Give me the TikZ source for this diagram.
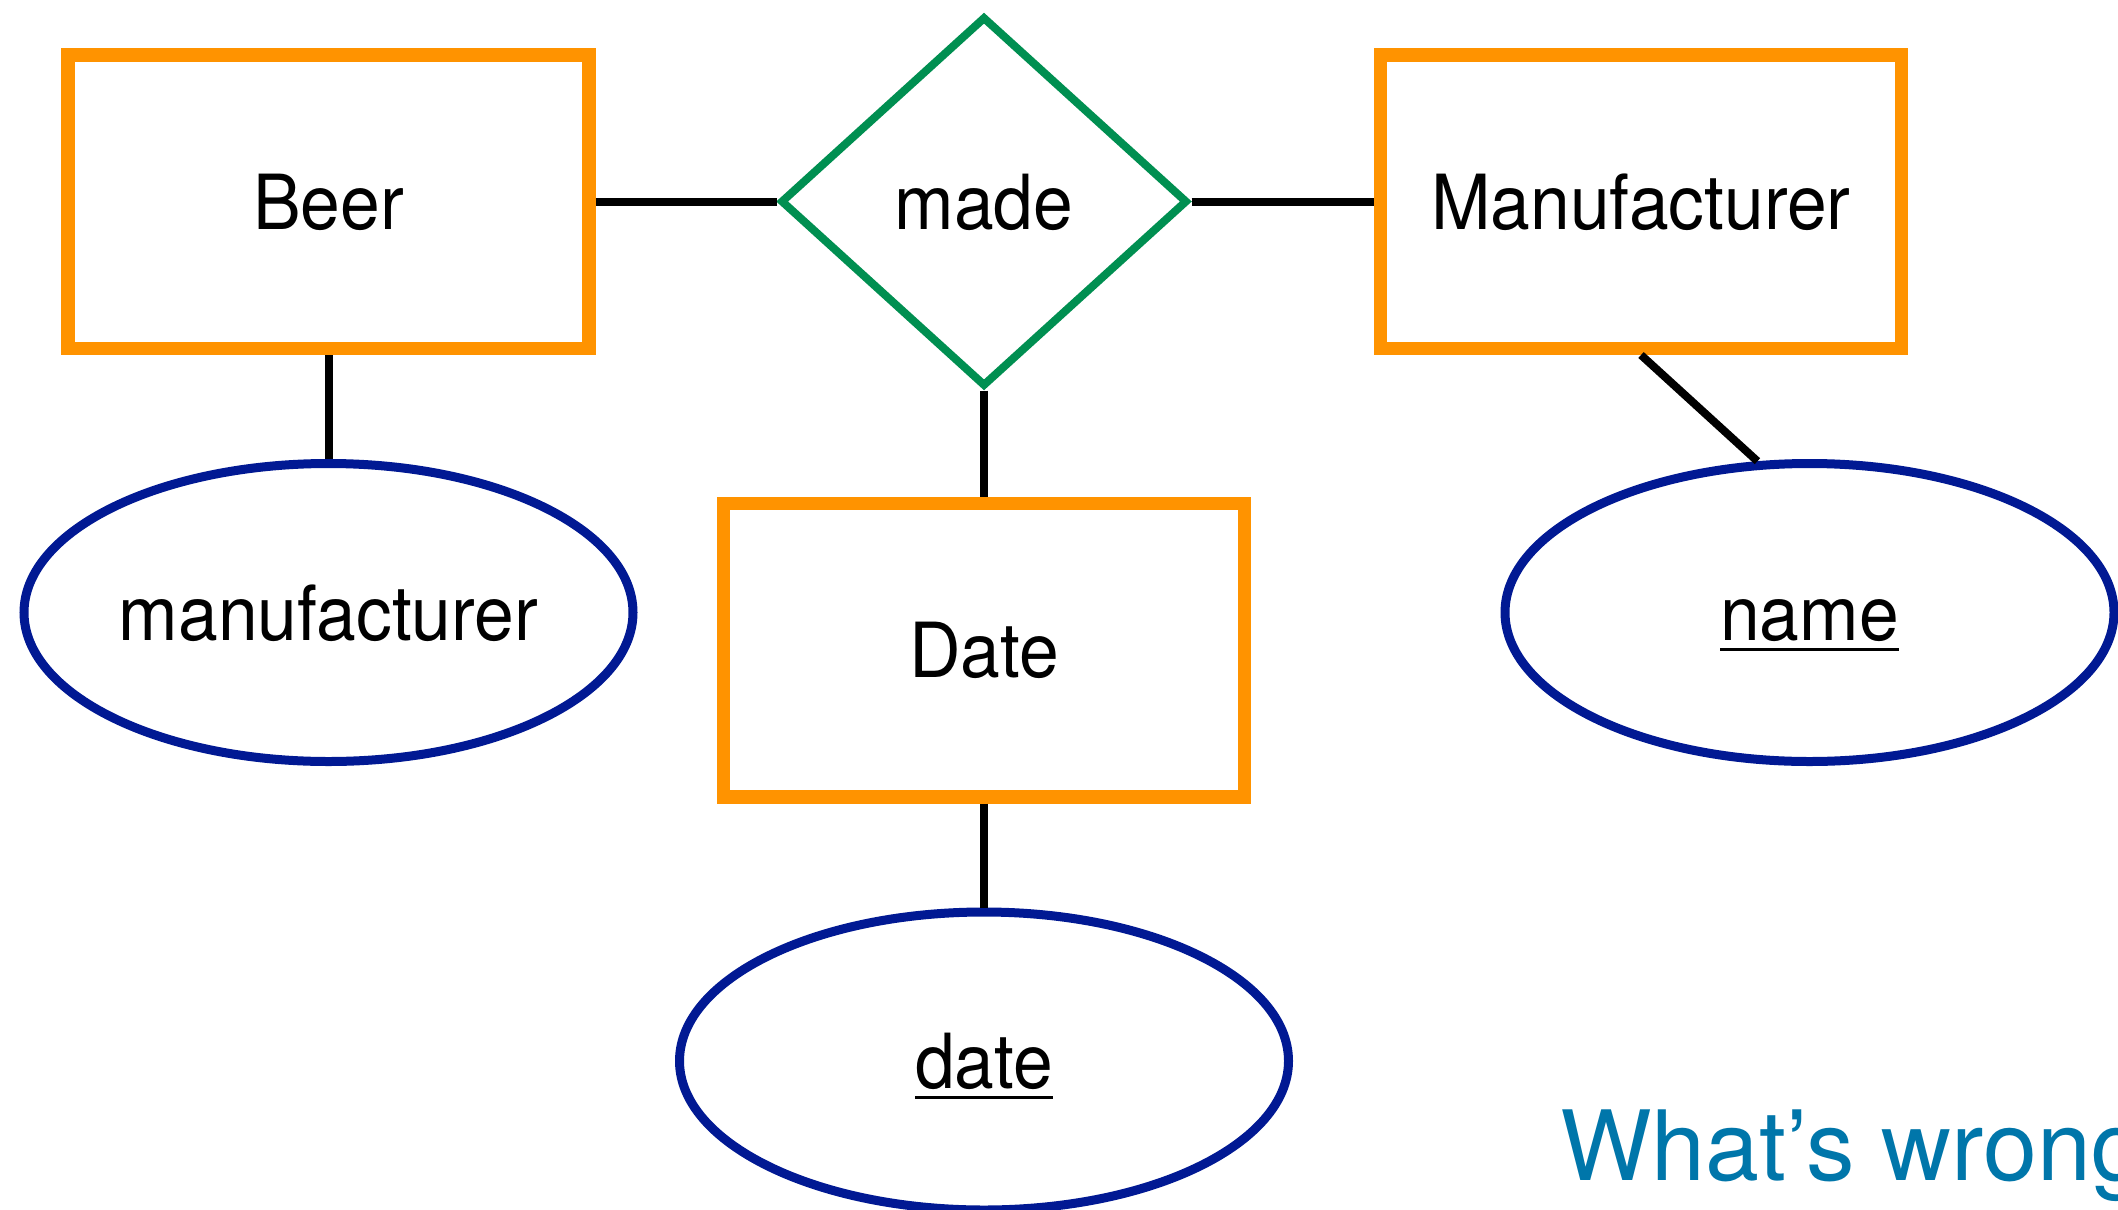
\documentclass[tikz,border=0pt]{standalone}
\usepackage{fontspec}
\setmainfont{TeX Gyre Heros}[FakeStretch=0.94]
\newfontfamily\notefont{TeX Gyre Heros}
\usetikzlibrary{shapes.geometric}

\definecolor{entityorange}{RGB}{255,147,0}
\definecolor{relgreen}{RGB}{0,143,81}
\definecolor{attrblue}{RGB}{1,25,147}
\definecolor{notecolor}{RGB}{0,118,170}

% key attributes are underlined with a thin bar below the baseline
\newsavebox\keybox
\newcommand\keyattr[1]{\sbox\keybox{#1}\rlap{\rule[-10.5pt]{\wd\keybox}{3pt}}\usebox\keybox}

\begin{document}
\begin{tikzpicture}[x=1pt, y=-1pt,
  font=\fontsize{76}{80}\selectfont,
  entity/.style={draw=entityorange, line width=13.5pt, fill=white,
    minimum width=521pt, minimum height=293.5pt, inner sep=0pt,
    text height=55pt, text depth=0pt},
  relation/.style={diamond, draw=relgreen, line width=8pt, fill=white,
    minimum width=407pt, minimum height=370pt, inner sep=0pt,
    text height=55pt, text depth=0pt},
  attribute/.style={ellipse, draw=attrblue, line width=9pt, fill=white,
    minimum width=609pt, minimum height=298pt, inner sep=0pt,
    text height=55pt, text depth=0pt},
  link/.style={draw=black, line width=8pt}
]
  \fill[white] (0,0) rectangle (2118,1210);
  \useasboundingbox (0,0) rectangle (2118,1210);

  % entities and the relationship
  \node[entity]   (beer)    at (328.5,201.5) {Beer};
  \node[relation] (made)    at (984,201.5)   {made};
  \node[entity]   (manu)    at (1641,201.5)  {Manufacturer};
  \node[entity]   (datebox) at (984,650)     {Date};

  % attributes
  \node[attribute] (mfr)  at (328.5,612.5)  {manufacturer};
  \node[attribute] (name) at (1809.5,612.5) {\keyattr{name}};
  \node[attribute] (date) at (984,1061)     {\keyattr{date}};

  % connectors
  \draw[link] (beer.east)    -- (made.west);
  \draw[link] (made.east)    -- (manu.west);
  \draw[link] (made.south)   -- (datebox.north);
  \draw[link] (datebox.south) -- (date.north);
  \draw[link] (beer.south)   -- (mfr.north);
  \draw[link] (manu.south)   -- (name.109);

  % question below the diagram
  \node[text=notecolor, font=\notefont\fontsize{97}{100}\selectfont,
        anchor=base west, inner sep=0pt] (note) at (1560,1180) {What’s wrong};
\end{tikzpicture}
\end{document}
